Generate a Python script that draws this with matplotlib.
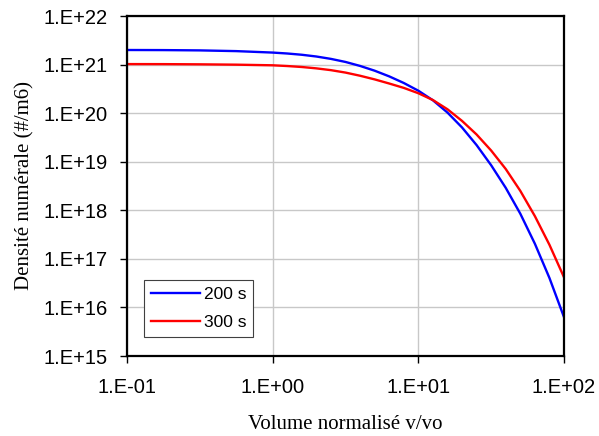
import matplotlib
matplotlib.use("Agg")
import matplotlib.pyplot as plt
import numpy as np
from matplotlib.ticker import FuncFormatter, LogLocator

# curves, as log10(v/vo) and log10(density, #/m6)
LOG_V = [-1.0, -0.75, -0.5, -0.25, 0.0, 0.1, 0.2, 0.3, 0.4, 0.5, 0.6, 0.7,
         0.8, 0.9, 1.0, 1.1, 1.2, 1.3, 1.4, 1.5, 1.6, 1.7, 1.8, 1.9, 2.0]
LOG_N_200S = [21.300, 21.298, 21.292, 21.277, 21.247, 21.228, 21.202, 21.166,
              21.117, 21.054, 20.972, 20.874, 20.757, 20.621, 20.462, 20.265,
              20.012, 19.705, 19.342, 18.927, 18.462, 17.930, 17.312, 16.607,
              15.800]
LOG_N_300S = [21.010, 21.009, 21.005, 20.998, 20.985, 20.970, 20.950, 20.922,
              20.885, 20.835, 20.770, 20.695, 20.610, 20.520, 20.410, 20.270,
              20.080, 19.840, 19.560, 19.230, 18.850, 18.400, 17.880, 17.290,
              16.620]


def sci_label(val, _pos):
    exp = int(round(np.log10(val)))
    sign = "+" if exp >= 0 else "-"
    return f"1.E{sign}{abs(exp):02d}"


def main() -> None:
    plt.rcParams["font.family"] = ["Liberation Sans", "DejaVu Sans"]
    fig = plt.figure(figsize=(5.99, 4.36), dpi=100)
    ax = fig.add_axes([127 / 599, 1 - 356 / 436, 437 / 599, 340 / 436])

    v = 10 ** np.array(LOG_V)
    ax.plot(v, 10 ** np.array(LOG_N_200S), color="#0000ff", lw=1.7,
            label="200 s")
    ax.plot(v, 10 ** np.array(LOG_N_300S), color="#ff0000", lw=1.7,
            label="300 s")

    ax.set_xscale("log")
    ax.set_yscale("log")
    ax.set_xlim(0.1, 100)
    ax.set_ylim(1e15, 1e22)
    ax.xaxis.set_major_locator(LogLocator(base=10, numticks=10))
    ax.yaxis.set_major_locator(LogLocator(base=10, numticks=10))
    ax.xaxis.set_minor_locator(plt.NullLocator())
    ax.yaxis.set_minor_locator(plt.NullLocator())
    ax.xaxis.set_major_formatter(FuncFormatter(sci_label))
    ax.yaxis.set_major_formatter(FuncFormatter(sci_label))
    ax.tick_params(axis="both", direction="out", length=5, width=1,
                   labelsize=14.5, color="black")
    ax.tick_params(axis="y", pad=9)
    ax.tick_params(axis="x", pad=11)
    ax.grid(True, color="#c8c8c8", lw=1)
    ax.set_axisbelow(True)
    for sp in ax.spines.values():
        sp.set_linewidth(1.6)
        sp.set_color("black")

    ax.set_xlabel("Volume normalisé v/vo", family="Liberation Serif",
                  fontsize=15, labelpad=13)
    ax.set_ylabel("Densité numérale (#/m6)", family="Liberation Serif",
                  fontsize=15, labelpad=6)

    leg = ax.legend(loc="lower left", bbox_to_anchor=(0.039, 0.056),
                    borderaxespad=0, fancybox=False, framealpha=1,
                    edgecolor="#404040", fontsize=12.5, handlelength=2.8,
                    handletextpad=0.25, borderpad=0.4, labelspacing=0.75)
    leg.get_frame().set_linewidth(0.8)

    fig.savefig("out.png", dpi=100)


if __name__ == "__main__":
    main()
